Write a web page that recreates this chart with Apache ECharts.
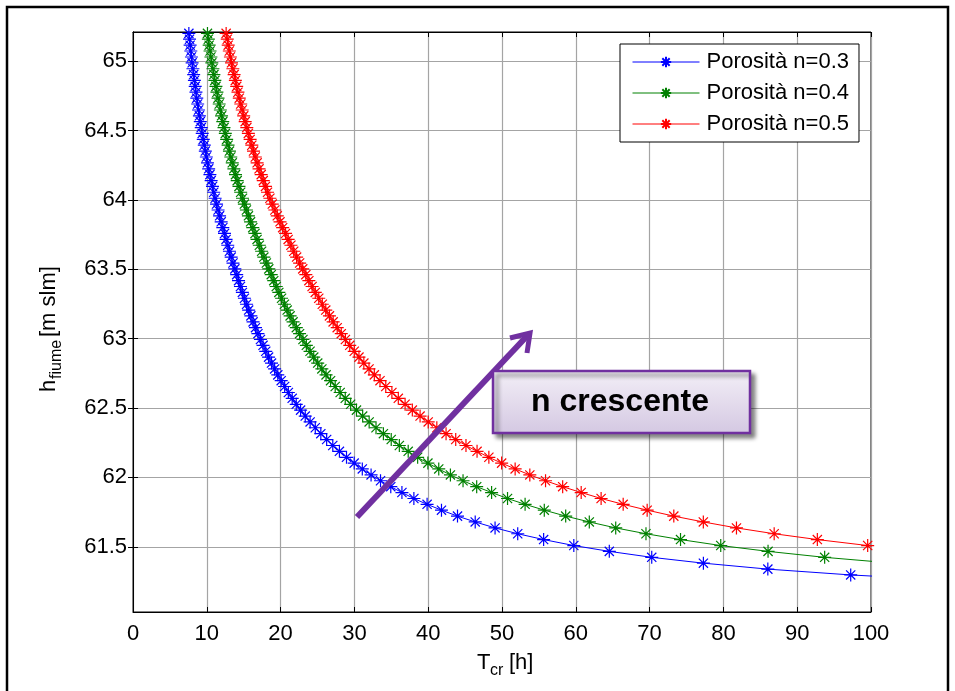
<!DOCTYPE html>
<html><head><meta charset="utf-8">
<script src="https://cdn.jsdelivr.net/npm/echarts@6/dist/echarts.min.js"></script>
<style>html,body{margin:0;padding:0;background:#fff}#c{width:955px;height:691px}</style>
</head><body><div id="c"></div>
<script>
// river level h (m slm), shared by all curves
const hVals = [61.255,61.297,61.339,61.382,61.424,61.467,61.509,61.552,61.594,61.636,
61.679,61.721,61.764,61.806,61.848,61.891,61.933,61.976,62.018,62.061,
62.103,62.145,62.188,62.230,62.273,62.315,62.358,62.400,62.442,62.485,
62.527,62.570,62.612,62.655,62.697,62.739,62.782,62.824,62.867,62.909,
62.952,62.994,63.036,63.079,63.121,63.164,63.206,63.248,63.291,63.333,
63.376,63.418,63.461,63.503,63.545,63.588,63.630,63.673,63.715,63.758,
63.800,63.842,63.885,63.927,63.970,64.012,64.055,64.097,64.139,64.182,
64.224,64.267,64.309,64.352,64.394,64.436,64.479,64.521,64.564,64.606,
64.648,64.691,64.733,64.776,64.818,64.861,64.903,64.945,64.988,65.030,
65.073,65.115,65.158,65.200];
// critical time T_cr (h) for n = 0.3
const blueT = [112.2,97.25,86.02,77.29,70.29,64.54,59.73,55.64,52.13,49.06,
46.37,43.97,41.80,39.85,38.06,36.44,34.93,33.54,32.26,31.07,
29.97,28.93,27.97,27.07,26.24,25.45,24.70,24.00,23.34,22.71,
22.12,21.57,21.05,20.55,20.08,19.62,19.19,18.77,18.37,17.99,
17.62,17.27,16.93,16.60,16.27,15.97,15.67,15.39,15.10,14.82,
14.56,14.30,14.05,13.80,13.55,13.30,13.07,12.84,12.61,12.40,
12.17,11.95,11.73,11.53,11.32,11.13,10.94,10.77,10.59,10.42,
10.25,10.09,9.94,9.80,9.66,9.52,9.38,9.25,9.12,9.00,
8.88,8.76,8.64,8.53,8.43,8.32,8.22,8.12,8.01,7.92,
7.83,7.74,7.66,7.57];
// n = 0.4
const greenT = [149.6,129.67,114.69,103.05,93.72,86.05,79.64,74.19,69.51,65.41,
61.83,58.63,55.73,53.13,50.75,48.59,46.57,44.72,43.01,41.43,
39.96,38.57,37.29,36.09,34.99,33.93,32.93,32.00,31.12,30.28,
29.49,28.76,28.07,27.40,26.77,26.16,25.59,25.03,24.49,23.99,
23.49,23.03,22.57,22.13,21.69,21.29,20.89,20.52,20.13,19.76,
19.41,19.07,18.73,18.40,18.07,17.73,17.43,17.12,16.81,16.53,
16.23,15.93,15.64,15.37,15.09,14.84,14.59,14.36,14.12,13.89,
13.67,13.45,13.25,13.07,12.88,12.69,12.51,12.33,12.16,12.00,
11.84,11.68,11.52,11.37,11.24,11.09,10.96,10.83,10.68,10.56,
10.44,10.32,10.21,10.09];
// n = 0.5
const redT = [187.0,162.08,143.37,128.82,117.15,107.57,99.55,92.73,86.88,81.77,
77.28,73.28,69.67,66.42,63.43,60.73,58.22,55.90,53.77,51.78,
49.95,48.22,46.62,45.12,43.73,42.42,41.17,40.00,38.90,37.85,
36.87,35.95,35.08,34.25,33.47,32.70,31.98,31.28,30.62,29.98,
29.37,28.78,28.22,27.67,27.12,26.62,26.12,25.65,25.17,24.70,
24.27,23.83,23.42,23.00,22.58,22.17,21.78,21.40,21.02,20.67,
20.28,19.92,19.55,19.22,18.87,18.55,18.23,17.95,17.65,17.37,
17.08,16.82,16.57,16.33,16.10,15.87,15.63,15.42,15.20,15.00,
14.80,14.60,14.40,14.22,14.05,13.87,13.70,13.53,13.35,13.20,
13.05,12.90,12.77,12.62];

const seriesNames = ['Porosità n=0.3', 'Porosità n=0.4', 'Porosità n=0.5'];
const seriesColors = ['#0000ff', '#008000', '#ff0000'];
const yTicks = [61.5, 62, 62.5, 63, 63.5, 64, 64.5, 65];
const annotationText = 'n crescente';

const FONT = '"Liberation Sans", Arial, Helvetica, sans-serif';
const STAR = 'path://M0,-10L0,10M-10,0L10,0M-7.07,-7.07L7.07,7.07M-7.07,7.07L7.07,-7.07';

const chart = echarts.init(document.getElementById('c'), null, {renderer: 'canvas'});

function mkSeries(name, color, tArr) {
  return {
    name: name, type: 'line', xAxisIndex: 0, yAxisIndex: 0,
    data: tArr.map((t, i) => [t, hVals[i]]),
    symbol: STAR, symbolSize: 13,
    itemStyle: {color: color, borderColor: color, borderWidth: 1.2},
    lineStyle: {color: color, width: 1},
    clip: true, animation: false, silent: true,
    emphasis: {disabled: true}
  };
}

const axisCommon = {
  axisLine: {show: true, lineStyle: {color: '#000', width: 1}},
  axisTick: {show: true, inside: true, length: 5, lineStyle: {color: '#000', width: 1}}
};

const option = {
  animation: false,
  backgroundColor: '#fff',
  textStyle: {fontFamily: FONT},
  grid: {left: 133, right: 84, top: 32, bottom: 79, show: true, borderColor: '#000', borderWidth: 1, backgroundColor: 'transparent'},
  legend: {
    show: true, orient: 'vertical', left: 620, top: 44,
    data: seriesNames,
    itemWidth: 67, itemHeight: 13, itemGap: 9,
    padding: [7, 10, 7, 12],
    backgroundColor: '#fff', borderColor: '#000', borderWidth: 1,
    lineStyle: {width: 1},
    textStyle: {fontSize: 22, color: '#000', fontFamily: FONT, padding: [0, 0, 0, 2]},
    selectedMode: false
  },
  xAxis: [
    Object.assign({}, axisCommon, {
      type: 'value', min: 0, max: 100, interval: 10, position: 'bottom',
      axisLabel: {fontSize: 22, color: '#000', margin: 11, fontFamily: FONT},
      splitLine: {show: true, lineStyle: {color: '#a4a4a4', width: 1.2}}
    }),
    Object.assign({}, axisCommon, {
      type: 'value', min: 0, max: 100, interval: 10, position: 'top',
      axisLabel: {show: false}, splitLine: {show: false}
    })
  ],
  yAxis: [
    Object.assign({}, axisCommon, {
      type: 'value', min: 61.03, max: 65.21, position: 'left',
      axisTick: {show: true, inside: true, length: 5, customValues: yTicks, lineStyle: {color: '#000'}},
      axisLabel: {fontSize: 22, color: '#000', margin: 6, fontFamily: FONT, customValues: yTicks},
      splitLine: {show: true, lineStyle: {color: '#a4a4a4', width: 1.2}}
    }),
    Object.assign({}, axisCommon, {
      type: 'value', min: 61.03, max: 65.21, position: 'right',
      axisTick: {show: true, inside: true, length: 5, customValues: yTicks, lineStyle: {color: '#000'}},
      axisLabel: {show: false, customValues: yTicks}, splitLine: {show: false}
    })
  ],
  series: [
    mkSeries(seriesNames[0], seriesColors[0], blueT),
    mkSeries(seriesNames[1], seriesColors[1], greenT),
    mkSeries(seriesNames[2], seriesColors[2], redT)
  ],
  graphic: [
    {type: 'rect', silent: true, z: 100, shape: {x: 7, y: 7, width: 941, height: 700},
     style: {fill: 'none', stroke: '#000', lineWidth: 2.5}},
    {type: 'group', x: 49, y: 392, rotation: Math.PI / 2, silent: true, children: [
      {type: 'text', x: 0, y: 0, style: {text: 'h', font: '22px ' + FONT, fill: '#000', verticalAlign: 'middle', align: 'left'}},
      {type: 'text', x: 13, y: 8, style: {text: 'fiume', font: '16px ' + FONT, fill: '#000', verticalAlign: 'middle', align: 'left'}},
      {type: 'text', x: 55, y: 0, style: {text: '[m slm]', font: '22px ' + FONT, fill: '#000', verticalAlign: 'middle', align: 'left'}}
    ]},
    {type: 'group', x: 477, y: 663, silent: true, children: [
      {type: 'text', x: 0, y: 0, style: {text: 'T', font: '22px ' + FONT, fill: '#000', verticalAlign: 'middle', align: 'left'}},
      {type: 'text', x: 13, y: 8, style: {text: 'cr', font: '16px ' + FONT, fill: '#000', verticalAlign: 'middle', align: 'left'}},
      {type: 'text', x: 32, y: 0, style: {text: '[h]', font: '22px ' + FONT, fill: '#000', verticalAlign: 'middle', align: 'left'}}
    ]},
    {type: 'line', silent: true, z: 110, shape: {x1: 357, y1: 517, x2: 527, y2: 336},
     style: {stroke: '#7030a0', lineWidth: 6, lineCap: 'butt'}},
    {type: 'polyline', silent: true, z: 110, shape: {points: [[510, 338], [530, 333], [527, 353]]},
     style: {stroke: '#7030a0', lineWidth: 5, fill: 'none', lineJoin: 'miter'}},
    {type: 'rect', silent: true, z: 120, shape: {x: 493, y: 371, width: 257, height: 62},
     style: {fill: new echarts.graphic.LinearGradient(0, 0, 0, 1, [{offset: 0, color: '#f3eff7'}, {offset: 1, color: '#d4c8e2'}]),
       stroke: '#7030a0', lineWidth: 2.5, shadowColor: 'rgba(0,0,0,0.45)', shadowBlur: 4, shadowOffsetX: 4, shadowOffsetY: 4}},
    {type: 'text', silent: true, z: 121, x: 620, y: 402,
     style: {text: annotationText, font: 'bold 32px ' + FONT, fill: '#000', align: 'center', verticalAlign: 'middle'}}
  ]
};
chart.setOption(option);
</script>
</body></html>
